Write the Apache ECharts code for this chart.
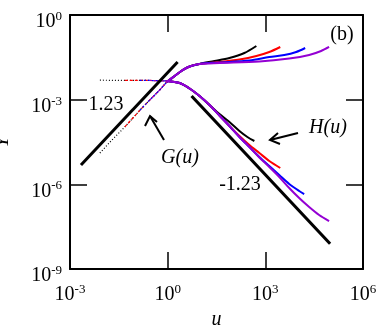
<!DOCTYPE html>
<html><head><meta charset="utf-8">
<script src="https://cdn.jsdelivr.net/npm/echarts@6/dist/echarts.min.js"></script>
<style>html,body{margin:0;padding:0;background:#fff}#c{width:381px;height:325px}</style>
</head><body><div id="c"></div>
<script>
// ---- data (u, Y) ----
const xTicks = [1e-3, 1e0, 1e3, 1e6];
const yTicks = [1e-9, 1e-6, 1e-3, 1e0];
const colors = ['#000000', '#ff0000', '#0000ff', '#9400d3'];
const startU = [0.00828, 0.0483, 0.139, 0.281];

// G(u): common rising part (sparse, dotted) and bend to plateau
const gRise = [[0.00828,1.29e-5],[0.0193,3.69e-5],[0.0483,1.08e-4],[0.139,4.2e-4],[0.281,9.7e-4],[0.569,2.2e-3],[0.931,4.2e-3]];
const gBend = [[0.931,4.2e-3],[1.64,6.9e-3],[2.88,1.12e-2],[4.71,1.50e-2],[9.53,1.85e-2]];
const gTailBlack  = [[27.4,0.0234],[78.9,0.0300],[227,0.045],[530,0.0797]];
const gTailRed    = [[39.0,0.0216],[160,0.0265],[530,0.0352],[1324,0.0489],[2875,0.0735]];
const gTailBlue   = [[39.0,0.0207],[324,0.0244],[1324,0.0325],[3811,0.0382],[8872,0.0489],[16740,0.0677]];
const gTailPurple = [[39.0,0.0199],[655,0.0225],[5420,0.0287],[22200,0.0382],[51650,0.0530],[90800,0.0735]];

// H(u): common flat part and bend down
const hFlat = [[0.00828,0.0049],[0.0483,0.0048],[0.139,0.0048],[0.281,0.0048],[0.931,0.0046]];
const hBend = [[0.931,0.0046],[2.33,0.00389],[4.71,0.00249],[9.53,0.00135],[19.3,6.47e-4],[39.0,2.75e-4]];
const hTailBlack  = [[39.0,3.1e-4],[78.9,1.62e-4],[160,7.75e-5],[281,4.75e-5],[460,3.43e-5]];
const hTailRed    = [[78.9,1.17e-4],[160,5.16e-5],[324,2.47e-5],[655,1.29e-5],[1324,6.71e-6],[2875,3.79e-6]];
const hTailBlue   = [[78.9,1.17e-4],[160,4.75e-5],[324,2.10e-5],[655,9.29e-6],[1324,4.46e-6],[2679,2.14e-6],[5420,1.03e-6],[10960,5.8e-7],[15600,4.54e-7]];
const hTailPurple = [[78.9,1.17e-4],[160,4.75e-5],[324,2.10e-5],[655,8.9e-6],[1324,4.11e-6],[2679,1.82e-6],[5420,7.41e-7],[10960,3.27e-7],[22200,1.57e-7],[44900,8.18e-8],[90800,5.01e-8]];

// guide lines with slopes 1.23 and -1.23
const slopeUp   = [[0.00217,4.81e-6],[2.02,0.0216]];
const slopeDown = [[5.42,1.349e-3],[97500,7.89e-9]];

// ---- build series ----
const gTails = [gTailBlack, gTailRed, gTailBlue, gTailPurple];
const hTails = [hTailBlack, hTailRed, hTailBlue, hTailPurple];
const leftStyles = [[1,2],[3,2],[2,2],[2,2]];
const series = [];
function line(data, color, width, type, smooth) {
  return {type:'line', data, showSymbol:false, symbol:'none', smooth: smooth||0,
    lineStyle:{color, width, type}, silent:true, animation:false};
}
for (let i = 0; i < 4; i++) {
  const c = colors[i];
  const gl = gRise.filter(p => p[0] >= startU[i] - 1e-9);
  const hl = hFlat.filter(p => p[0] >= startU[i] - 1e-9);
  series.push(line(gl, c, 1.2, leftStyles[i]));
  series.push(line(hl, c, 1.2, leftStyles[i]));
  series.push(line(gBend.concat(gTails[i]), c, 2, 'solid', 0.3));
  const hb = i === 0 ? hBend.slice(0, -1) : hBend;
  series.push(line(hb.concat(hTails[i]), c, 2, 'solid', 0.3));
}
series.push(line(slopeUp, '#000', 3, 'solid'));
series.push(line(slopeDown, '#000', 3, 'solid'));

const serif = '"Liberation Serif","Times New Roman",serif';
function expLabel(v) {
  const e = Math.round(Math.log10(v));
  return '{b|10}{s|' + e + '}';
}
const rich = {
  b: {fontSize: 20, fontFamily: serif, color: '#000', lineHeight: 22, verticalAlign: 'bottom'},
  s: {fontSize: 13, fontFamily: serif, color: '#000', lineHeight: 14, verticalAlign: 'top'}
};
const axisCommon = {
  type: 'log', logBase: 10, interval: 3,
  axisLine: {show: true, lineStyle: {color: '#000', width: 2}},
  axisTick: {show: true, inside: true, length: 17, lineStyle: {color: '#000', width: 1.5}},
  splitLine: {show: false}, minorTick: {show: false}
};
const labelCommon = {show: true, formatter: expLabel, rich: rich, showMinLabel: true, showMaxLabel: true, hideOverlap: false, interval: 0};
const option = {
  backgroundColor: '#fff',
  animation: false,
  grid: {left: 70, right: 18, top: 15, bottom: 56, containLabel: false, outerBoundsMode: 'none'},
  xAxis: [
    Object.assign({}, axisCommon, {position: 'bottom', min: xTicks[0], max: xTicks[3],
      name: 'u', nameLocation: 'middle', nameGap: 36,
      nameTextStyle: {fontFamily: serif, fontSize: 20, fontStyle: 'italic', color: '#000'},
      axisLabel: Object.assign({margin: 14}, labelCommon)}),
    Object.assign({}, axisCommon, {position: 'top', min: xTicks[0], max: xTicks[3],
      axisLabel: {show: false}})
  ],
  yAxis: [
    Object.assign({}, axisCommon, {position: 'left', min: yTicks[0], max: yTicks[3],
      name: 'Y', nameLocation: 'middle', nameGap: 57, nameRotate: 90,
      nameTextStyle: {fontFamily: serif, fontSize: 20, fontStyle: 'italic', color: '#000'},
      axisLabel: Object.assign({margin: 8, padding: [12, 0, 0, 0]}, labelCommon)}),
    Object.assign({}, axisCommon, {position: 'right', min: yTicks[0], max: yTicks[3],
      axisLabel: {show: false}})
  ],
  series: series,
  graphic: [
    {type: 'text', style: {text: '1.23', x: 106, y: 105, font: '20px ' + serif, fill: '#000', align: 'center', verticalAlign: 'middle', textAlign: 'center', textVerticalAlign: 'middle'}},
    {type: 'text', style: {text: '-1.23', x: 240, y: 185, font: '20px ' + serif, fill: '#000', align: 'center', verticalAlign: 'middle', textAlign: 'center', textVerticalAlign: 'middle'}},
    {type: 'text', style: {text: '(b)', x: 342, y: 35, font: '20px ' + serif, fill: '#000', align: 'center', verticalAlign: 'middle', textAlign: 'center', textVerticalAlign: 'middle'}},
    {type: 'text', style: {text: 'H(u)', x: 328, y: 128, font: 'italic 20px ' + serif, fill: '#000', align: 'center', verticalAlign: 'middle', textAlign: 'center', textVerticalAlign: 'middle'}},
    {type: 'text', style: {text: 'G(u)', x: 180, y: 158, font: 'italic 20px ' + serif, fill: '#000', align: 'center', verticalAlign: 'middle', textAlign: 'center', textVerticalAlign: 'middle'}},
    {type: 'line', shape: {x1: 164, y1: 140, x2: 150, y2: 116}, style: {stroke: '#000', lineWidth: 2}},
    {type: 'polyline', shape: {points: [[145, 126], [150, 116], [157, 122]]}, style: {stroke: '#000', lineWidth: 2, fill: null}},
    {type: 'line', shape: {x1: 298, y1: 133, x2: 270, y2: 140}, style: {stroke: '#000', lineWidth: 2}},
    {type: 'polyline', shape: {points: [[278, 133], [270, 140], [280, 144]]}, style: {stroke: '#000', lineWidth: 2, fill: null}}
  ]
};
const chart = echarts.init(document.getElementById('c'), null, {renderer: 'canvas'});
chart.setOption(option);
</script>
</body></html>
